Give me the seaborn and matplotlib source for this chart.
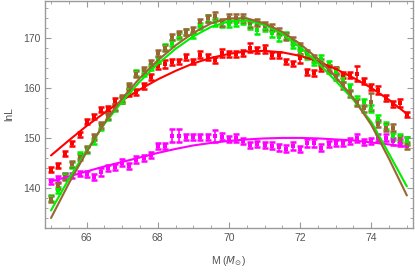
import numpy as np
import pandas as pd
import seaborn as sns
import matplotlib
matplotlib.use("Agg")
import matplotlib.pyplot as plt
from matplotlib.ticker import MultipleLocator

# masses (M_sun), same grid for all series
mass = [65.0, 65.2, 65.4, 65.6, 65.8, 66.0, 66.2, 66.4, 66.6, 66.8,
        67.0, 67.2, 67.4, 67.6, 67.8, 68.0, 68.2, 68.4, 68.6, 68.8,
        69.0, 69.2, 69.4, 69.6, 69.8, 70.0, 70.2, 70.4, 70.6, 70.8,
        71.0, 71.2, 71.4, 71.6, 71.8, 72.0, 72.2, 72.4, 72.6, 72.8,
        73.0, 73.2, 73.4, 73.6, 73.8, 74.0, 74.2, 74.4, 74.6, 74.8, 75.0]

red_vals = [143.6, 144.4, 146.8, 148.9, 150.7, 153.2, 154.2, 155.6, 155.8, 157.4,
            157.5, 159.1, 159.1, 160.3, 162.1, 164.3, 164.7, 165.2, 165.3, 166.1,
            165.3, 166.6, 166.2, 165.6, 167.0, 166.8, 166.8, 167.0, 168.0, 167.5,
            167.7, 166.6, 166.6, 165.3, 164.9, 165.9, 163.2, 163.0, 163.9, 164.0,
            163.5, 162.6, 162.6, 162.8, 161.3, 160.1, 159.6, 157.9, 156.8, 157.0, 154.6]
red_err = [0.5, 0.5, 0.5, 0.5, 0.5, 0.5, 0.5, 0.5, 0.5, 0.6,
           0.6, 0.8, 0.6, 0.6, 0.6, 0.6, 0.8, 0.6, 0.5, 0.6,
           0.5, 0.7, 0.6, 0.6, 0.8, 0.6, 0.6, 0.6, 0.9, 0.6,
           0.8, 0.6, 0.6, 0.5, 0.5, 0.9, 0.6, 0.6, 0.6, 0.6,
           0.7, 0.6, 0.6, 1.5, 0.6, 0.6, 0.8, 0.6, 0.6, 0.8, 0.5]

green_vals = [137.9, 139.6, 142.4, 144.6, 146.5, 147.6, 149.4, 152.2, 154.1, 156.0,
              157.6, 160.0, 163.0, 163.0, 164.2, 165.6, 168.2, 169.0, 170.4, 171.2,
              170.6, 172.4, 173.8, 173.2, 172.9, 172.8, 173.0, 173.4, 172.5, 171.6,
              172.0, 170.9, 170.2, 170.5, 168.6, 167.3, 166.5, 165.2, 165.8, 164.7,
              163.2, 161.8, 160.1, 157.5, 157.1, 155.8, 153.8, 152.4, 150.3, 150.1, 149.4]
green_err = [0.6, 0.6, 0.6, 0.6, 0.6, 0.6, 0.6, 0.6, 0.6, 0.6,
             0.6, 0.6, 0.6, 0.6, 0.6, 0.6, 0.6, 0.6, 0.6, 0.6,
             0.6, 0.6, 0.7, 0.8, 0.7, 0.7, 0.7, 0.7, 0.7, 0.9,
             0.7, 0.7, 0.8, 0.7, 0.7, 0.7, 0.7, 0.7, 0.7, 0.7,
             0.7, 0.7, 0.7, 0.9, 0.7, 0.7, 0.7, 0.7, 0.7, 0.7, 0.7]

brown_vals = [137.7, 140.3, 142.1, 144.8, 146.2, 147.8, 150.1, 152.6, 154.4, 156.2,
              158.0, 160.3, 162.8, 163.5, 165.0, 167.0, 168.0, 170.1, 170.8, 171.1,
              171.6, 173.1, 173.9, 174.3, 173.1, 173.9, 173.9, 173.9, 172.9, 173.0,
              172.4, 172.0, 171.2, 170.3, 169.4, 168.3, 166.9, 165.8, 165.0, 163.6,
              162.3, 160.4, 158.8, 157.1, 155.9, 157.2, 152.8, 152.0, 152.0, 149.7, 148.4]
brown_err = [0.6, 0.6, 0.6, 0.6, 0.6, 0.6, 0.6, 0.6, 0.6, 0.6,
             0.6, 0.6, 0.6, 0.6, 0.6, 0.6, 0.6, 0.6, 0.6, 0.6,
             0.6, 0.7, 0.7, 0.8, 0.7, 0.8, 0.8, 0.8, 0.7, 0.7,
             0.7, 0.7, 0.7, 0.7, 0.7, 0.7, 0.7, 0.7, 0.7, 0.7,
             0.7, 0.7, 0.7, 0.7, 0.7, 1.7, 0.7, 0.7, 0.7, 0.7, 0.7]

magenta_vals = [141.3, 141.8, 142.4, 142.4, 142.8, 142.7, 142.2, 143.1, 144.0, 144.2,
                145.0, 144.4, 145.6, 146.0, 146.6, 148.4, 148.4, 150.4, 150.4, 150.1,
                150.2, 150.1, 150.1, 150.4, 150.2, 149.7, 149.9, 149.4, 148.6, 148.7,
                148.6, 148.4, 148.1, 147.8, 148.4, 147.8, 148.9, 148.9, 148.0, 148.7,
                149.0, 149.0, 149.3, 149.9, 149.1, 149.4, 150.0, 150.0, 149.3, 149.0, 149.3]
magenta_err = [0.5, 0.6, 0.6, 0.5, 0.5, 0.6, 0.6, 0.8, 0.6, 0.6,
               0.7, 0.6, 0.7, 0.6, 0.6, 0.6, 0.6, 1.3, 1.3, 0.6,
               0.6, 0.6, 0.6, 1.2, 0.7, 0.6, 0.8, 0.6, 0.6, 0.6,
               0.6, 0.7, 0.7, 0.7, 0.8, 0.6, 0.8, 0.8, 0.7, 0.6,
               0.6, 0.6, 0.6, 0.8, 0.6, 0.6, 0.7, 0.7, 0.7, 0.7, 0.8]

fit_mass = [65.0, 65.5, 66.0, 66.5, 67.0, 67.5, 68.0, 68.5, 69.0, 69.5, 70.0,
            70.5, 71.0, 71.5, 72.0, 72.5, 73.0, 73.5, 74.0, 74.5, 75.0]
red_fit = [146.5, 149.5, 152.4, 155.0, 157.5, 159.7, 161.7, 163.4, 164.9, 166.0, 166.8,
           167.3, 167.4, 167.1, 166.4, 165.3, 163.8, 162.0, 160.0, 157.6, 154.8]
green_fit = [135.5, 141.8, 147.5, 152.8, 157.3, 161.3, 164.8, 167.8, 170.3, 172.2, 173.3,
             173.5, 172.6, 170.8, 168.1, 165.0, 161.4, 157.6, 153.2, 146.8, 140.3]
brown_fit = [134.0, 140.9, 147.2, 153.0, 157.9, 162.0, 165.5, 168.5, 171.0, 172.9, 173.9,
             173.9, 172.9, 171.2, 168.8, 165.8, 162.2, 157.9, 152.6, 145.8, 138.5]
magenta_fit = [141.3, 142.3, 143.3, 144.3, 145.2, 146.1, 147.0, 147.8, 148.5, 149.0, 149.4,
               149.7, 149.9, 150.0, 150.0, 149.9, 149.7, 149.5, 149.1, 148.7, 148.2]

series = [
    ("red", red_vals, red_err, red_fit, "#ff0000"),
    ("magenta", magenta_vals, magenta_err, magenta_fit, "#ff00ff"),
    ("green", green_vals, green_err, green_fit, "#00ee00"),
    ("brown", brown_vals, brown_err, brown_fit, "#996633"),
]

sns.set_style("ticks")
plt.rcParams["font.family"] = ["Liberation Sans", "DejaVu Sans"]
plt.rcParams["mathtext.fontset"] = "dejavusans"

fig = plt.figure(figsize=(4.15, 2.72), dpi=100)
ax = fig.add_axes([0.1084, 0.1618, 0.8866, 0.8352])

fits = []
for name, vals, err, fit, col in series:
    eb = ax.errorbar(mass, vals, yerr=err, fmt="s", color=col, ms=2.4, mew=0,
                     elinewidth=1.2, capsize=0, zorder=3)
    # caps drawn as short horizontal bars at both ends
    lo = [v - e for v, e in zip(vals, err)]
    hi = [v + e for v, e in zip(vals, err)]
    ax.plot(mass, lo, ls="none", marker="_", ms=4.2, mew=1.8, color=col, zorder=3)
    ax.plot(mass, hi, ls="none", marker="_", ms=4.2, mew=1.8, color=col, zorder=3)
    fits.append(pd.DataFrame({"M": fit_mass, "lnL": fit, "s": name}))

fit_df = pd.concat(fits, ignore_index=True)
sns.lineplot(data=fit_df, x="M", y="lnL", hue="s",
             palette={n: c for n, _, _, _, c in series},
             linewidth=1.5, legend=False, ax=ax, zorder=4)

ax.set_xlim(64.83, 75.17)
ax.set_ylim(132.0, 177.4)
ax.xaxis.set_major_locator(MultipleLocator(2))
ax.xaxis.set_minor_locator(MultipleLocator(0.5))
ax.yaxis.set_major_locator(MultipleLocator(10))
ax.yaxis.set_minor_locator(MultipleLocator(2))

gray = "#9a9a9a"
for sp in ax.spines.values():
    sp.set_color(gray)
    sp.set_linewidth(1.0)
ax.tick_params(which="both", direction="in", top=True, right=True,
               colors=gray, labelcolor="#555555", labelsize=7.5)
ax.tick_params(which="major", length=4, width=0.8)
ax.tick_params(which="minor", length=2.2, width=0.6)

ax.set_xlabel(r"M ($M_{\odot}$)", color="#555555", fontsize=7.5, labelpad=8)
ax.set_ylabel("lnL", color="#555555", fontsize=7.5, labelpad=6)

fig.savefig("out.png", dpi=100)
